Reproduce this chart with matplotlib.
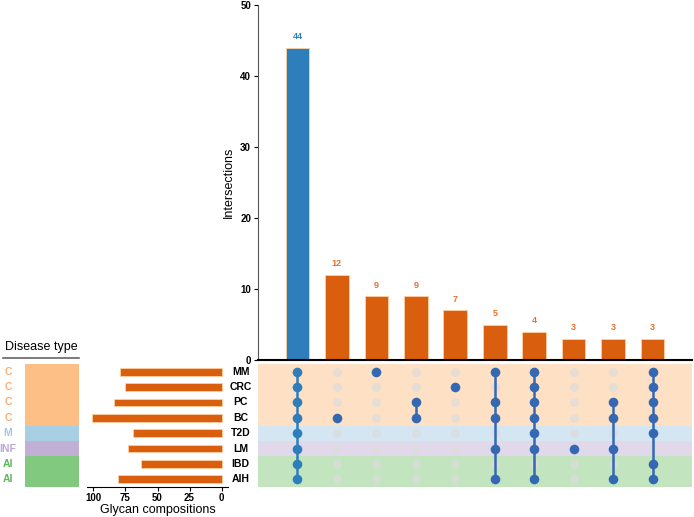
import matplotlib.pyplot as plt
from matplotlib.patches import Rectangle

plt.rcParams['font.family'] = ['Liberation Sans', 'DejaVu Sans']

# data
sets = ['MM', 'CRC', 'PC', 'BC', 'T2D', 'LM', 'IBD', 'AIH']
set_sizes = [79, 75, 84, 101, 69, 73, 63, 81]
disease_type = ['C', 'C', 'C', 'C', 'M', 'INF', 'AI', 'AI']
counts = [44, 12, 9, 9, 7, 5, 4, 3, 3, 3]
members = [
    ['MM', 'CRC', 'PC', 'BC', 'T2D', 'LM', 'IBD', 'AIH'],
    ['BC'],
    ['MM'],
    ['PC', 'BC'],
    ['CRC'],
    ['MM', 'PC', 'BC', 'LM', 'AIH'],
    ['MM', 'CRC', 'PC', 'BC', 'T2D', 'LM', 'AIH'],
    ['LM'],
    ['PC', 'BC', 'LM', 'AIH'],
    ['MM', 'CRC', 'PC', 'BC', 'T2D', 'IBD', 'AIH'],
]

blue = '#2e7ebc'
dot_blue = '#3568b3'
orange = '#d95f0e'
label_orange = '#e8702a'
type_block = {'C': '#fdbf86', 'M': '#a8cfe4', 'INF': '#c2afd6', 'AI': '#80c97f'}
type_text = {'C': '#fdb074', 'M': '#9ecae1', 'INF': '#bba8d6', 'AI': '#5cb85a'}
type_bg = {'C': '#fee0c4', 'M': '#d3e6f1', 'INF': '#e1d8ea', 'AI': '#c2e5c0'}

W, H = 694, 517
fig = plt.figure(figsize=(W / 100, H / 100), dpi=100)


def px_axes(x0, y0, x1, y1):
    return fig.add_axes([x0 / W, 1 - y1 / H, (x1 - x0) / W, (y1 - y0) / H])


n = len(counts)
xs = list(range(n))

# intersection bars
ax = px_axes(258, 5, 692, 360)
colors = [blue] + [orange] * (n - 1)
ax.bar(xs, counts, width=0.6, color=colors, edgecolor='#fdd0a2', linewidth=0.6)
for x, c, col in zip(xs, counts, colors):
    tc = blue if col == blue else label_orange
    ax.text(x, c + 0.9, str(c), ha='center', va='bottom', fontsize=6.5,
            fontweight='bold', color=tc)
ax.set_xlim(-1, n)
ax.set_ylim(0, 50)
ax.set_yticks([0, 10, 20, 30, 40, 50])
ax.set_xticks([])
ax.spines['top'].set_visible(False)
ax.spines['right'].set_visible(False)
ax.spines['left'].set_color('#555555')
ax.spines['bottom'].set_linewidth(1.5)
ax.tick_params(axis='y', labelsize=7, length=3, pad=2)
for t in ax.get_yticklabels():
    t.set_fontweight('bold')
ax.set_ylabel('Intersections', fontsize=9, labelpad=4)

# matrix
mx = px_axes(258, 364, 692, 487)
mx.set_xlim(-1, n)
mx.set_ylim(len(sets) - 0.5, -0.5)
for i, s in enumerate(sets):
    mx.add_patch(Rectangle((-1, i - 0.5), n + 1, 1, color=type_bg[disease_type[i]],
                           lw=0, zorder=0))
for j, mem in enumerate(members):
    dc = blue if j == 0 else dot_blue
    rows = [sets.index(m) for m in mem]
    others = [i for i in range(len(sets)) if i not in rows]
    mx.scatter([j] * len(others), others, s=42, color='#dcdcdc', alpha=0.7,
               lw=0, zorder=2)
    if len(rows) > 1:
        mx.plot([j, j], [min(rows), max(rows)], color=dc, lw=1.8, zorder=3)
    mx.scatter([j] * len(rows), rows, s=48, color=dc, lw=0, zorder=4)
mx.axis('off')

# set size bars
sx = px_axes(87, 364, 228, 487)
sx.barh(range(len(sets)), set_sizes, height=0.5, color=orange,
        edgecolor='#fdd0a2', linewidth=0.6)
sx.set_xlim(105, -5)
sx.set_ylim(len(sets) - 0.5, -0.5)
sx.set_yticks([])
sx.set_xticks([100, 75, 50, 25, 0])
for sp in ['top', 'left', 'right']:
    sx.spines[sp].set_visible(False)
sx.tick_params(axis='x', labelsize=7, length=3, pad=1.5)
for t in sx.get_xticklabels():
    t.set_fontweight('bold')
sx.set_xlabel('Glycan compositions', fontsize=9, labelpad=0.5)

# set labels
lab = px_axes(228, 364, 256, 487)
lab.set_xlim(0, 1)
lab.set_ylim(len(sets) - 0.5, -0.5)
lab.axis('off')
for i, s in enumerate(sets):
    lab.text(0.45, i, s, fontsize=7.5, fontweight='bold', ha='center', va='center')

# disease type panel
dx = px_axes(0, 364, 79, 487)
dx.set_xlim(0, 79)
dx.set_ylim(len(sets) - 0.5, -0.5)
for i, d in enumerate(disease_type):
    dx.add_patch(Rectangle((25, i - 0.5), 54, 1, color=type_block[d], lw=0))
    dx.text(8, i, d, color=type_text[d], fontsize=7.5, fontweight='bold',
            ha='center', va='center')
dx.axis('off')

fig.text(41 / W, 1 - 347 / H, 'Disease type', fontsize=9, ha='center',
         va='center')
fig.add_artist(plt.Line2D([3 / W, 79 / W], [1 - 358 / H, 1 - 358 / H],
                          color='#666666', lw=1.2))

fig.savefig('out.png', dpi=100)
